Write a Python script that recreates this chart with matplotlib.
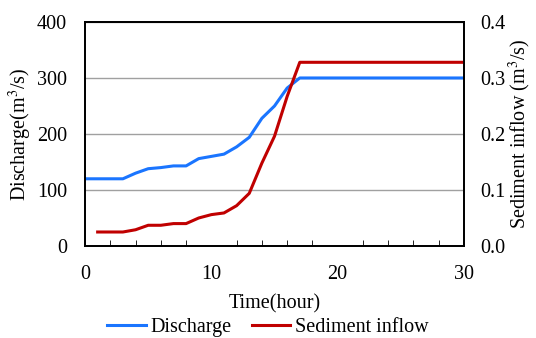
import matplotlib
matplotlib.use("Agg")
import matplotlib.pyplot as plt
from matplotlib.ticker import MultipleLocator, FormatStrFormatter

plt.rcParams["font.family"] = ["Liberation Serif", "DejaVu Serif"]
plt.rcParams["font.size"] = 14.5
plt.rcParams["mathtext.fontset"] = "stix"

# discharge, hours 0..30
hours_q = list(range(0, 31))
discharge = [120, 120, 120, 120, 130, 138, 140, 143, 143, 156, 160, 164, 177, 194,
             228, 250, 282, 300] + [300] * 13

# sediment inflow, hours 1..30
hours_s = list(range(1, 31))
sediment = [0.025, 0.025, 0.025, 0.029, 0.037, 0.037, 0.040, 0.040, 0.050, 0.056,
            0.059, 0.072, 0.094, 0.148, 0.196, 0.267, 0.328] + [0.328] * 13

fig = plt.figure(figsize=(5.36, 3.38), dpi=100)
ax = fig.add_axes([0.1586, 0.2722, 0.7071, 0.6628])
ax2 = ax.twinx()

l1, = ax.plot(hours_q, discharge, color="#1a75ff", lw=2.2, label="Discharge")
l2, = ax2.plot(hours_s, sediment, color="#c00000", lw=2.2, label="Sediment inflow")

ax.set_xlim(0, 30)
ax.set_ylim(0, 400)
ax2.set_ylim(0, 0.4)
ax.xaxis.set_major_locator(MultipleLocator(10))
ax.xaxis.set_minor_locator(MultipleLocator(2))
ax.yaxis.set_major_locator(MultipleLocator(100))
ax2.yaxis.set_major_locator(MultipleLocator(0.1))
ax2.yaxis.set_major_formatter(FormatStrFormatter("%.1f"))

ax.grid(axis="y", color="#a0a0a0", lw=1)
ax.set_axisbelow(True)
ax.tick_params(axis="x", which="major", length=0, pad=14)
ax.tick_params(axis="x", which="minor", direction="in", length=4)
ax.tick_params(axis="y", length=0, pad=13)
ax2.tick_params(axis="y", length=0, pad=12)

for a in (ax, ax2):
    for s in a.spines.values():
        s.set_linewidth(1.3)
        s.set_color("black")

ax.set_xlabel("Time(hour)", labelpad=7)
ax.set_ylabel("Discharge(m$^3$/s)", labelpad=2)
ax2.set_ylabel("Sediment inflow (m$^3$/s)", labelpad=1)

fig.legend(handles=[l1, l2], loc="lower center", bbox_to_anchor=(0.5, -0.05),
           ncol=2, frameon=False, handlelength=1.9, handletextpad=0.25,
           columnspacing=1.0)

fig.savefig("out.png", dpi=100)
